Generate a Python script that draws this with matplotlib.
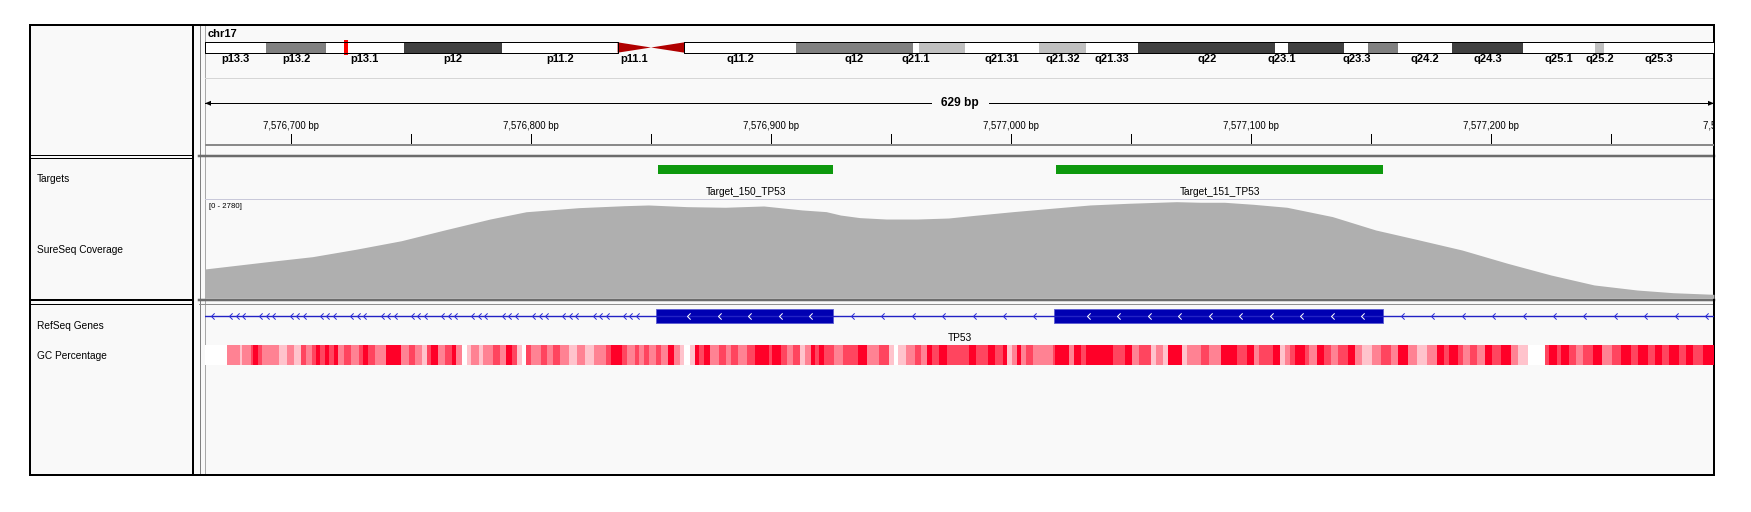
import matplotlib
matplotlib.use('Agg')
import matplotlib.pyplot as plt
from matplotlib.patches import Rectangle, Polygon
from matplotlib.path import Path
import numpy as np

# IGV view of chr17 (hg19) around TP53 exons 8/9

view_start = 7576664.2
view_end = 7577293.0

# chr17 cytobands, hg19 (Mb)
band_start = [0, 3.3, 6.5, 10.7, 16.0, 22.2, 24.0, 25.8, 31.8, 38.1, 38.4, 40.9,
              44.9, 47.4, 50.2, 57.6, 58.3, 61.3, 62.6, 64.2, 67.1, 70.9, 74.8, 75.3]
band_end = band_start[1:] + [81.19521]
band_name = ['p13.3', 'p13.2', 'p13.1', 'p12', 'p11.2', 'p11.1', 'q11.1', 'q11.2',
             'q12', 'q21.1', 'q21.2', 'q21.31', 'q21.32', 'q21.33', 'q22', 'q23.1',
             'q23.2', 'q23.3', 'q24.1', 'q24.2', 'q24.3', 'q25.1', 'q25.2', 'q25.3']
band_stain = ['gneg', 'gpos50', 'gneg', 'gpos75', 'gneg', 'acen', 'acen', 'gneg',
              'gpos50', 'gneg', 'gpos25', 'gneg', 'gpos25', 'gneg', 'gpos75', 'gneg',
              'gpos75', 'gneg', 'gpos50', 'gneg', 'gpos75', 'gneg', 'gpos25', 'gneg']
chr_len = band_end[-1]

# targets (bed)
target_start = [7576853, 7577019]
target_end = [7576926, 7577155]
target_name = ['Target_150_TP53', 'Target_151_TP53']

# coverage, scale 0 - 2780
cov_max = 2780
cov_pos = [7576664, 7576690, 7576709, 7576727, 7576746, 7576764, 7576783, 7576798,
           7576820, 7576839, 7576849, 7576865, 7576881, 7576897, 7576913, 7576923,
           7576929, 7576937, 7576948, 7576961, 7576974, 7576985, 7577001, 7577017,
           7577033, 7577049, 7577069, 7577079, 7577089, 7577101, 7577115, 7577134,
           7577152, 7577169, 7577188, 7577207, 7577225, 7577243, 7577261, 7577276,
           7577293]
cov_depth = [817, 1020, 1162, 1368, 1607, 1907, 2213, 2416, 2530, 2585, 2605, 2558,
             2541, 2577, 2466, 2419, 2324, 2252, 2213, 2213, 2241, 2316, 2419, 2513,
             2605, 2652, 2697, 2680, 2680, 2624, 2541, 2280, 1907, 1646, 1348, 976,
             651, 373, 231, 156, 111]

# RefSeq TP53 exons in view (exon 9, exon 8)
gene_name = 'TP53'
exon_start = [7576852, 7577018]
exon_end = [7576926, 7577155]

# GC percentage: segment start (bp from view start) and shade level 0-4
gc_offset = [0, 9, 14.4, 15.6, 19, 20, 22, 23.6, 31, 34,
             37, 40, 42, 44.4, 46.4, 48, 50, 51.6, 53.6, 55.6,
             58, 61, 64, 66, 68, 71, 75.6, 81.6, 85, 87.6,
             90.4, 92.6, 94, 97, 100, 103, 104.4, 107, 109, 111,
             114, 116, 120, 123, 125.6, 128, 130, 132, 133.6, 136,
             140, 142.4, 145, 148, 151.6, 155, 158.4, 162, 167, 169,
             173.6, 176, 179, 181, 183, 185, 188, 190, 193, 195.6,
             198, 199.4, 202, 204, 206, 208, 210.4, 214, 217, 219,
             222, 226, 229, 235, 236.4, 240, 242.4, 245, 248, 250,
             252.4, 254, 256, 258, 262, 266, 272, 276, 281, 285,
             287, 288.6, 292, 296, 298.4, 301, 303, 306, 309, 318.2,
             321.2, 326.2, 329.2, 332.6, 334.2, 336.2, 338.2, 340.2, 342.2, 345.2,
             353.2, 354.2, 360.2, 362.2, 365.2, 367.2, 378.2, 383.2, 386.2, 389.2,
             394.2, 396.2, 399.2, 401.2, 407.2, 409.2, 415.2, 418.2, 423.2, 430.2,
             434.2, 437.2, 439.2, 445.2, 447.8, 450.2, 452.2, 454.2, 458.2, 460.2,
             463.2, 466.2, 469.2, 472.2, 476.2, 479.2, 482.2, 486.2, 490.2, 494.2,
             497.2, 501.2, 505.2, 509.2, 513.2, 516.2, 518.2, 522.2, 524.2, 527.2,
             530.2, 533.2, 536.2, 540.2, 544.2, 547.2, 551.2, 558.2, 560.2, 563.2,
             565.2, 568.2, 571.2, 574.2, 578.2, 582.2, 586.2, 590.2, 594.2, 597.2,
             601.2, 604.2, 607.2, 610.2, 614.2, 617.2, 620.2, 624.2]
gc_level = [0, 2, 1, 2, 3, 4, 3, 2, 1, 2,
            1, 3, 2, 3, 4, 3, 4, 3, 4, 2,
            3, 2, 3, 4, 3, 2, 4, 2, 3, 2,
            1, 3, 4, 2, 3, 4, 2, 0, 1, 2,
            1, 2, 3, 2, 4, 3, 1, 0, 3, 2,
            3, 2, 3, 2, 1, 2, 1, 2, 3, 4,
            3, 2, 3, 2, 3, 2, 3, 2, 4, 2,
            1, 0, 1, 4, 3, 4, 2, 3, 2, 3,
            2, 3, 4, 3, 4, 3, 2, 3, 1, 2,
            4, 3, 4, 3, 2, 3, 4, 2, 3, 1,
            0, 1, 2, 3, 2, 4, 3, 4, 3, 4,
            3, 4, 3, 4, 1, 2, 4, 2, 3, 2,
            3, 4, 2, 4, 3, 4, 3, 4, 2, 3,
            1, 2, 1, 4, 1, 2, 3, 2, 4, 3,
            4, 2, 3, 4, 1, 2, 3, 4, 3, 2,
            4, 3, 2, 3, 4, 2, 1, 2, 3, 2,
            4, 2, 1, 2, 4, 3, 4, 3, 2, 3,
            2, 4, 3, 4, 2, 1, 0, 3, 4, 3,
            4, 3, 2, 3, 4, 2, 3, 4, 3, 4,
            3, 4, 3, 4, 3, 4, 3, 4]

stain_color = {'gneg': 'white', 'gpos25': '#c0c0c0', 'gpos50': '#808080',
               'gpos75': '#404040', 'acen': '#b00000'}
gc_color = ['#ffffff', '#ffc3cc', '#ff8293', '#ff455f', '#ff0028']

W, H = 1751, 512
PX = 0.72  # one pixel in points
bg = '#f9f9f9'
sans = ['Liberation Sans', 'DejaVu Sans']

fig = plt.figure(figsize=(W / 100, H / 100), dpi=100)
fig.patch.set_facecolor('white')

base = fig.add_axes([0, 0, 1, 1])
base.set_xlim(0, W)
base.set_ylim(H, 0)
base.axis('off')

DX0, DX1 = 205, 1714  # data panel in pixels
ppb = (DX1 - DX0) / (view_end - view_start)


def track_axes(y0, y1, x0, x1):
    ax = fig.add_axes([DX0 / W, 1 - y1 / H, (DX1 - DX0) / W, (y1 - y0) / H])
    ax.set_xlim(x0, x1)
    ax.set_ylim(y1, y0)
    ax.axis('off')
    return ax


def px2bp(p):
    return view_start + (p - DX0) / ppb


# panel frame
base.add_patch(Rectangle((30, 25), 1684, 450, fc=bg, ec='none'))
base.plot([193, 193], [25, 475], color='black', lw=2 * PX)
base.plot([199.5, 199.5], [25, 475], color='#808080', lw=PX)
base.plot([204.5, 204.5], [25, 475], color='#a8a8a8', lw=PX)
base.plot([199, 1714], [156, 156], color='#6c6c6c', lw=2.5 * PX)
base.plot([30, 193], [154.5, 154.5], color='black', lw=PX)
base.plot([30, 193], [157.5, 157.5], color='black', lw=PX)
base.plot([199, 1714], [299.5, 299.5], color='#6c6c6c', lw=2.5 * PX)
base.plot([199, 1714], [304, 304], color='#909090', lw=PX)
base.plot([30, 193], [299.5, 299.5], color='black', lw=2 * PX)
base.plot([30, 193], [304, 304], color='black', lw=PX)
base.plot([DX0, DX1], [78, 78], color='#d6d6d6', lw=PX)
base.plot([DX0, DX1], [198.7, 198.7], color='#c9c9da', lw=PX)
base.add_patch(Rectangle((30, 25), 1684, 450, fill=False, ec='black', lw=2 * PX, zorder=10))

# track names
for label, y in [('Targets', 179), ('SureSeq Coverage', 250),
                 ('RefSeq Genes', 326), ('GC Percentage', 356)]:
    base.text(37, y, label, fontsize=7.3, family=sans, va='center', ha='left')

base.text(208, 34, 'chr17', fontsize=8, fontweight='bold', family=sans, va='center')

# ideogram
ideo = track_axes(25, 155, 0, chr_len * 1e6)
top, bot = 42.3, 52.7
mid = (top + bot) / 2
for s, e, st in zip(band_start, band_end, band_stain):
    s, e = s * 1e6, e * 1e6
    if st == 'acen':
        continue
    ideo.add_patch(Rectangle((s, top), e - s, bot - top, fc=stain_color[st], ec='none'))
cen_s, cen_m, cen_e = 22.2e6, 24.0e6, 25.8e6
ideo.add_patch(Polygon([(cen_s, top), (cen_s, bot), (cen_m, mid)], fc=stain_color['acen'], ec='none'))
ideo.add_patch(Polygon([(cen_m, mid), (cen_e, top), (cen_e, bot)], fc=stain_color['acen'], ec='none'))
for x0, x1 in [(0, cen_s), (cen_e, chr_len * 1e6)]:
    ideo.plot([x0, x1, x1, x0, x0], [top, top, bot, bot, top], color='black', lw=PX)

# band labels, skipped where they would crowd the previous one
renderer = fig.canvas.get_renderer()
last_end = -1e9
for s, e, name in zip(band_start, band_end, band_name):
    t = ideo.text((s + e) / 2 * 1e6, 59.5, name, fontsize=8, fontweight='bold',
                  family=sans, ha='center', va='center')
    bb = t.get_window_extent(renderer)
    if bb.x0 < last_end + 8:
        t.remove()
    else:
        last_end = bb.x1

# current view marker
bp_per_px = chr_len * 1e6 / (DX1 - DX0)
vc = (view_start + view_end) / 2
vw = max(view_end - view_start, 4 * bp_per_px)
ideo.add_patch(Rectangle((vc - vw / 2, 40), vw, 15, fc='red', ec='none'))

# ruler
ruler = track_axes(25, 155, view_start, view_end)
span = int(round(view_end - view_start))
gap = 29 / ppb
ry = 103.3
ruler.plot([view_start, vc - gap], [ry, ry], color='black', lw=PX)
ruler.plot([vc + gap, view_end], [ry, ry], color='black', lw=PX)
ah = 6 / ppb
ruler.add_patch(Polygon([(view_start, ry), (view_start + ah, ry - 2.5), (view_start + ah, ry + 2.5)],
                        fc='black', ec='none'))
ruler.add_patch(Polygon([(view_end, ry), (view_end - ah, ry - 2.5), (view_end - ah, ry + 2.5)],
                        fc='black', ec='none'))
ruler.text(vc, ry, f'{span} bp', fontsize=8.6, fontweight='bold', family=sans,
           ha='center', va='center')
for t in np.arange(np.ceil(view_start / 50) * 50, view_end + 60, 50):
    if t <= view_end:
        ruler.plot([t, t], [134, 143], color='black', lw=PX)
    if t % 100 == 0:
        ruler.text(t, 126, f'{int(t):,} bp', fontsize=6.9, family=sans,
                   ha='center', va='center', clip_on=True)
ruler.plot([view_start, view_end], [144.5, 144.5], color='#8a8a8a', lw=2 * PX)

# targets
tgt = track_axes(157, 199, view_start, view_end)
tgt.broken_barh([(s, e - s) for s, e in zip(target_start, target_end)], (165, 9.3),
                facecolors='#0e990e', edgecolor='none')
for s, e, name in zip(target_start, target_end, target_name):
    tgt.text((s + e) / 2, 191.7, name, fontsize=7.3, family=sans, ha='center', va='center')

# coverage
cov = fig.add_axes([DX0 / W, 1 - 298.3 / H, (DX1 - DX0) / W, 99.6 / H])
cov.set_xlim(view_start, view_end)
cov.set_ylim(0, cov_max)
cov.axis('off')
cov.fill_between(cov_pos, cov_depth, 0, color='#afafaf', lw=0)
base.text(209, 206, f'[0 - {cov_max}]', fontsize=5.6, family=sans, va='center')

# genes
feat = track_axes(304, 475, view_start, view_end)
gy = 316
feat.plot([view_start, view_end], [gy, gy], color='#2222c4', lw=1.4 * PX)
feat.broken_barh([(s, e - s) for s, e in zip(exon_start, exon_end)], (309.3, 14),
                 facecolors='#0000b2', edgecolor='#5a5ad0', lw=0.8 * PX)

chevron = Path([(1, 1), (0, 0), (1, -1)], [Path.MOVETO, Path.LINETO, Path.LINETO])
intron_px = [210.8]
for k in range(14):
    p = 229 + k * 30.3
    intron_px += [p, p + 6.5, p + 13]
intron_px += [851 + k * 30.4 for k in range(7)]
intron_px += [1401 + k * 30.4 for k in range(11)]
exon_px = [687 + k * 30.6 for k in range(5)] + [1086.6 + k * 30.5 for k in range(10)]
feat.plot([px2bp(p) for p in intron_px], [gy] * len(intron_px), ls='none',
          marker=chevron, ms=4.5, mfc='none', mec='#2a2ad8', mew=PX)
feat.plot([px2bp(p) for p in exon_px], [gy] * len(exon_px), ls='none',
          marker=chevron, ms=4.5, mfc='none', mec='white', mew=PX)
feat.text(vc, 338, gene_name, fontsize=7.3, family=sans, ha='center', va='center')

# GC percentage
gc_left = [view_start + o for o in gc_offset]
gc_right = gc_left[1:] + [view_end]
feat.bar(gc_left, 20, width=np.array(gc_right) - np.array(gc_left), bottom=345,
         align='edge', color=[gc_color[l] for l in gc_level], lw=0)

fig.savefig('out.png', dpi=100, facecolor='white')
